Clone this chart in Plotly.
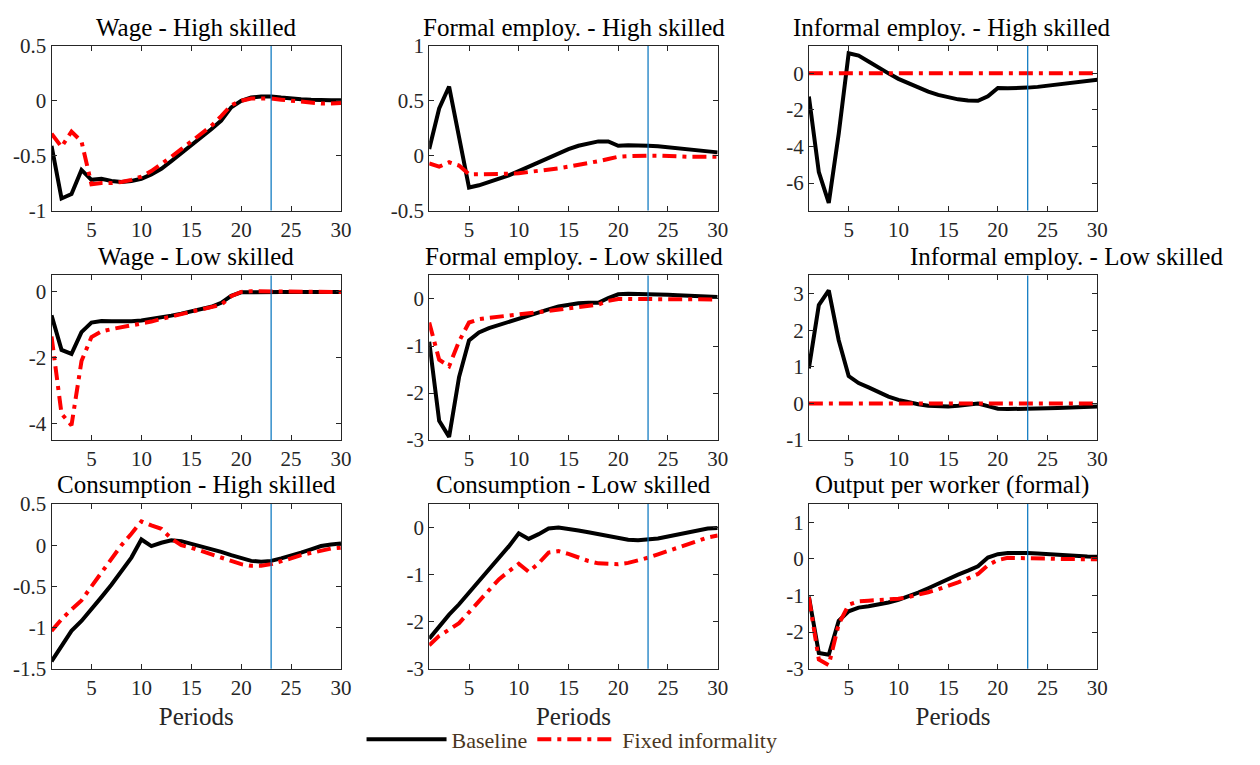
import plotly.graph_objects as go

periods = list(range(1, 31))

titles = [
    "Wage - High skilled", "Formal employ. - High skilled", "Informal employ. - High skilled",
    "Wage - Low skilled", "Formal employ. - Low skilled", "Informal employ. - Low skilled",
    "Consumption - High skilled", "Consumption - Low skilled", "Output per worker (formal)",
]

series_names = ["Baseline", "Fixed informality"]

# Panel 1: Wage - High skilled
wage_high_base = [-0.41, -0.89, -0.85, -0.63, -0.72, -0.71, -0.73, -0.74, -0.73, -0.71,
                  -0.67, -0.62, -0.55, -0.48, -0.41, -0.34, -0.26, -0.18, -0.06, 0.00,
                  0.03, 0.04, 0.04, 0.03, 0.02, 0.015, 0.01, 0.005, 0.005, 0.005]
wage_high_fixed = [-0.30, -0.42, -0.28, -0.37, -0.76, -0.75, -0.75, -0.74, -0.72, -0.69,
                   -0.64, -0.58, -0.51, -0.44, -0.37, -0.30, -0.23, -0.14, -0.04, 0.00,
                   0.02, 0.02, 0.02, 0.01, 0.0, -0.01, -0.02, -0.025, -0.025, -0.02]
# Panel 2: Formal employ. - High skilled
formal_high_base = [0.06, 0.43, 0.63, 0.17, -0.29, -0.27, -0.24, -0.21, -0.18, -0.14,
                    -0.10, -0.06, -0.02, 0.02, 0.06, 0.09, 0.11, 0.13, 0.13, 0.09,
                    0.095, 0.095, 0.09, 0.085, 0.075, 0.065, 0.055, 0.045, 0.035, 0.03]
formal_high_fixed = [-0.07, -0.10, -0.06, -0.09, -0.17, -0.17, -0.17, -0.17, -0.165, -0.16,
                     -0.15, -0.14, -0.13, -0.115, -0.10, -0.085, -0.07, -0.05, -0.03, -0.01,
                     -0.005, 0.0, 0.0, 0.0, -0.005, -0.01, -0.01, -0.01, -0.01, -0.01]
# Panel 3: Informal employ. - High skilled
informal_high_base = [-1.27, -5.4, -7.08, -3.3, 1.1, 0.97, 0.65, 0.3, 0.0, -0.3,
                      -0.55, -0.8, -1.0, -1.18, -1.32, -1.42, -1.48, -1.5, -1.25, -0.8,
                      -0.82, -0.82, -0.78, -0.74, -0.68, -0.62, -0.55, -0.48, -0.42, -0.35]
informal_high_fixed = [0.0] * 30
# Panel 4: Wage - Low skilled
wage_low_base = [-0.71, -1.76, -1.88, -1.22, -0.93, -0.88, -0.89, -0.90, -0.89, -0.87,
                 -0.83, -0.78, -0.72, -0.66, -0.59, -0.52, -0.45, -0.33, -0.12, -0.01,
                 0.0, 0.0, 0.0, 0.0, 0.0, 0.0, 0.0, 0.0, 0.0, 0.0]
wage_low_fixed = [-1.35, -3.7, -4.05, -2.1, -1.37, -1.2, -1.13, -1.08, -1.03, -0.97,
                  -0.9, -0.82, -0.74, -0.67, -0.6, -0.53, -0.46, -0.39, -0.13, 0.0,
                  0.02, 0.02, 0.02, 0.01, 0.01, 0.0, 0.0, 0.0, 0.0, 0.0]
# Panel 5: Formal employ. - Low skilled
formal_low_base = [-0.91, -2.59, -2.93, -1.66, -0.88, -0.71, -0.62, -0.55, -0.48, -0.41,
                   -0.35, -0.28, -0.22, -0.16, -0.12, -0.09, -0.08, -0.08, 0.02, 0.10,
                   0.11, 0.11, 0.11, 0.10, 0.09, 0.08, 0.07, 0.06, 0.05, 0.04]
formal_low_fixed = [-0.5, -1.29, -1.43, -0.9, -0.5, -0.43, -0.4, -0.38, -0.36, -0.34,
                    -0.31, -0.28, -0.25, -0.22, -0.19, -0.16, -0.14, -0.12, -0.04, 0.0,
                    0.0, 0.0, 0.0, 0.0, 0.0, -0.005, -0.01, -0.01, -0.01, -0.01]
# Panel 6: Informal employ. - Low skilled
informal_low_base = [0.96, 2.69, 3.09, 1.73, 0.75, 0.56, 0.44, 0.31, 0.19, 0.10,
                     0.03, -0.02, -0.06, -0.08, -0.08, -0.06, -0.02, 0.0, -0.07, -0.14,
                     -0.15, -0.15, -0.15, -0.14, -0.13, -0.12, -0.11, -0.10, -0.09, -0.08]
informal_low_fixed = [0.0] * 30
# Panel 7: Consumption - High skilled
cons_high_base = [-1.41, -1.22, -1.04, -0.92, -0.78, -0.63, -0.48, -0.32, -0.15, 0.07,
                  -0.01, 0.03, 0.06, 0.05, 0.02, -0.01, -0.04, -0.08, -0.12, -0.16,
                  -0.19, -0.20, -0.19, -0.16, -0.13, -0.09, -0.05, -0.01, 0.01, 0.02]
cons_high_fixed = [-1.04, -0.9, -0.78, -0.67, -0.5, -0.33, -0.16, 0.0, 0.14, 0.29,
                   0.24, 0.20, 0.08, 0.0, -0.03, -0.07, -0.11, -0.15, -0.19, -0.23,
                   -0.25, -0.25, -0.23, -0.20, -0.16, -0.12, -0.09, -0.06, -0.04, -0.03]
# Panel 8: Consumption - Low skilled
cons_low_base = [-2.36, -2.1, -1.85, -1.63, -1.39, -1.15, -0.9, -0.65, -0.4, -0.12,
                 -0.24, -0.14, -0.02, 0.0, -0.02, -0.06, -0.1, -0.14, -0.19, -0.23,
                 -0.26, -0.27, -0.26, -0.23, -0.19, -0.15, -0.10, -0.05, -0.02, -0.01]
cons_low_fixed = [-2.5, -2.3, -2.17, -2.03, -1.8, -1.56, -1.32, -1.1, -0.93, -0.77,
                  -0.94, -0.76, -0.53, -0.5, -0.56, -0.64, -0.71, -0.76, -0.78, -0.78,
                  -0.75, -0.70, -0.64, -0.57, -0.50, -0.42, -0.34, -0.27, -0.21, -0.17]
# Panel 9: Output per worker (formal)
output_base = [-1.03, -2.57, -2.62, -1.69, -1.43, -1.33, -1.29, -1.25, -1.19, -1.12,
               -1.03, -0.92, -0.8, -0.67, -0.55, -0.43, -0.32, -0.2, 0.04, 0.13,
               0.16, 0.17, 0.16, 0.15, 0.13, 0.11, 0.09, 0.08, 0.07, 0.06]
output_fixed = [-1.05, -2.75, -2.9, -1.78, -1.25, -1.16, -1.14, -1.13, -1.12, -1.09,
                -1.04, -0.98, -0.91, -0.83, -0.74, -0.64, -0.53, -0.41, -0.17, -0.03,
                0.03, 0.03, 0.03, 0.02, 0.01, 0.0, 0.0, -0.01, -0.01, -0.01]

baseline = [wage_high_base, formal_high_base, informal_high_base,
            wage_low_base, formal_low_base, informal_low_base,
            cons_high_base, cons_low_base, output_base]
fixed = [wage_high_fixed, formal_high_fixed, informal_high_fixed,
         wage_low_fixed, formal_low_fixed, informal_low_fixed,
         cons_high_fixed, cons_low_fixed, output_fixed]

y_ranges = [[-1, 0.5], [-0.5, 1], [-7.5, 1.5],
            [-4.5, 0.5], [-3, 0.5], [-1, 3.5],
            [-1.5, 0.5], [-3, 0.5], [-3, 1.5]]
y_tickvals = [[-1, -0.5, 0, 0.5], [-0.5, 0, 0.5, 1], [-6, -4, -2, 0],
              [-4, -2, 0], [-3, -2, -1, 0], [-1, 0, 1, 2, 3],
              [-1.5, -1, -0.5, 0, 0.5], [-3, -2, -1, 0], [-3, -2, -1, 0, 1]]
y_ticktext = [["-1", "-0.5", "0", "0.5"], ["-0.5", "0", "0.5", "1"], ["-6", "-4", "-2", "0"],
              ["-4", "-2", "0"], ["-3", "-2", "-1", "0"], ["-1", "0", "1", "2", "3"],
              ["-1.5", "-1", "-0.5", "0", "0.5"], ["-3", "-2", "-1", "0"], ["-3", "-2", "-1", "0", "1"]]
x_tickvals = [5, 10, 15, 20, 25, 30]
x_ticktext = ["5", "10", "15", "20", "25", "30"]
marker_period = 23
x_label = "Periods"

# layout geometry (pixels)
W, H = 1260, 765
col_px = [(52, 344), (433, 724), (816, 1107)]
row_px = [(35, 205), (272, 442), (508, 678)]
title_y_px = [16, 252, 488]
title_x_px = [198, 579, 960, 198, 579, 1076, 198, 579, 960]

FONT = "Liberation Serif"
AX = "#262626"

fig = go.Figure()
layout = dict(
    width=W, height=H, margin=dict(l=0, r=0, t=0, b=0),
    paper_bgcolor="white", plot_bgcolor="white",
    font=dict(family=FONT, size=20, color=AX),
    showlegend=True,
    legend=dict(orientation="h", x=0.458, xanchor="center", y=1 - 751 / H, yanchor="middle",
                font=dict(family=FONT, size=22, color="#4a3621"),
                bgcolor="rgba(0,0,0,0)", itemwidth=80, traceorder="normal"),
)
annotations = []
shapes = []

for i in range(9):
    r, c = divmod(i, 3)
    n = i + 1
    xa = "xaxis" if n == 1 else f"xaxis{n}"
    ya = "yaxis" if n == 1 else f"yaxis{n}"
    xref = "x" if n == 1 else f"x{n}"
    yref = "y" if n == 1 else f"y{n}"
    x0, x1 = col_px[c]
    y0, y1 = row_px[r]
    layout[xa] = dict(
        domain=[x0 / W, x1 / W], anchor=yref, range=[1, 30],
        tickvals=x_tickvals, ticktext=x_ticktext, ticks="inside", ticklen=5,
        tickcolor=AX, showline=True, linecolor=AX, linewidth=1, mirror="ticks",
        showgrid=False, zeroline=False, tickfont=dict(family=FONT, size=21, color=AX),
        title=dict(text=x_label if r == 2 else "", font=dict(family=FONT, size=25, color=AX), standoff=8),
    )
    layout[ya] = dict(
        domain=[1 - y1 / H, 1 - y0 / H], anchor=xref, range=y_ranges[i],
        tickvals=y_tickvals[i], ticktext=y_ticktext[i], ticks="inside", ticklen=5,
        tickcolor=AX, showline=True, linecolor=AX, linewidth=1, mirror="ticks",
        showgrid=False, zeroline=False, tickfont=dict(family=FONT, size=21, color=AX),
    )
    fig.add_trace(go.Scatter(
        x=periods, y=baseline[i], mode="lines", xaxis=xref, yaxis=yref,
        line=dict(color="black", width=4), name=series_names[0],
        legendgroup="b", showlegend=(i == 0)))
    fig.add_trace(go.Scatter(
        x=periods, y=fixed[i], mode="lines", xaxis=xref, yaxis=yref,
        line=dict(color="#ff0000", width=4, dash="14px,6px,4px,6px"), name=series_names[1],
        legendgroup="f", showlegend=(i == 0)))
    shapes.append(dict(type="line", xref=xref, yref=f"{yref} domain", x0=marker_period, x1=marker_period,
                       y0=0, y1=1, line=dict(color="#0072BD", width=1.2), layer="above"))
    annotations.append(dict(text=titles[i], x=title_x_px[i] / W, xref="paper", xanchor="center",
                            y=1 - title_y_px[r] / H, yref="paper", yanchor="middle", showarrow=False,
                            font=dict(family=FONT, size=25, color="black")))

layout["annotations"] = annotations
layout["shapes"] = shapes
fig.update_layout(**layout)
fig.write_html("out.html", config={"displayModeBar": False},
               post_script="document.body.style.margin='0';document.body.style.overflow='hidden';")
